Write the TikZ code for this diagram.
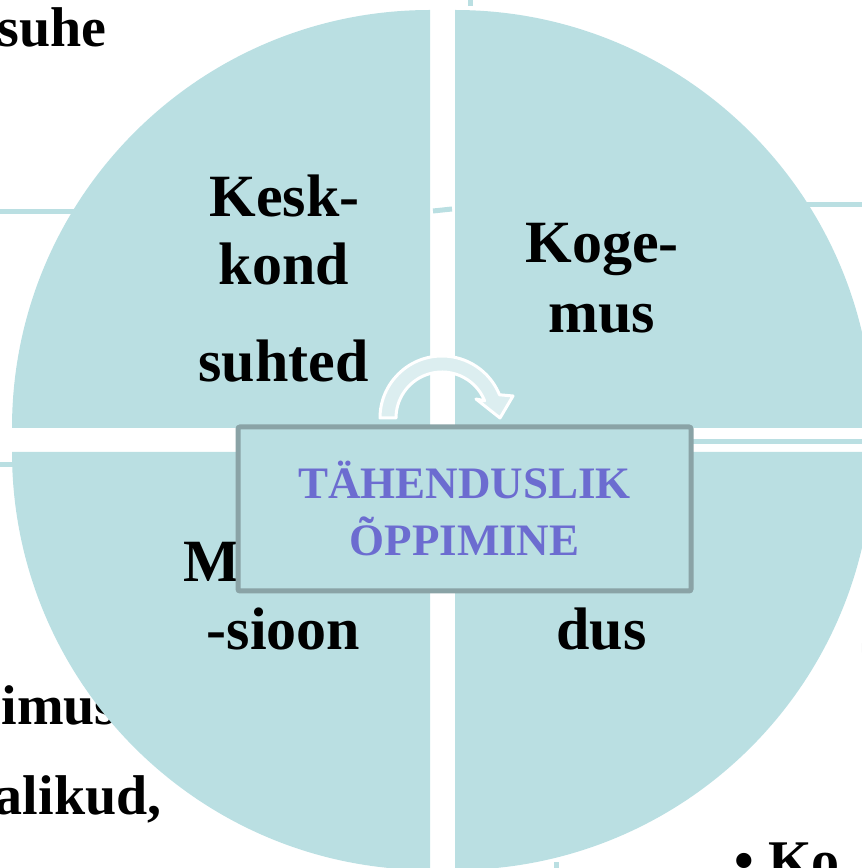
\documentclass[tikz,border=0pt]{standalone}
\usepackage{fontspec}
\setmainfont{Liberation Serif}
\usepackage{tikz}

\definecolor{wedge}{RGB}{186,223,226}
\definecolor{frame}{RGB}{138,163,166}
\definecolor{title}{RGB}{108,108,208}
\definecolor{arrowfill}{RGB}{220,238,240}

\tikzset{
  lbl/.style={anchor=base,font=\fontsize{60}{68}\selectfont\bfseries},
  back/.style={font=\fontsize{56}{68}\selectfont\bfseries},
  bgline/.style={draw=wedge,line width=5pt},
  pie/.style={fill=wedge},
  core/.style={draw=frame,fill=wedge,line width=5pt,minimum width=453pt,minimum height=164pt,
    rounded corners=2pt,align=center,text=title,font=\fontsize{45}{57}\selectfont\bfseries}
}

\begin{document}
\begin{tikzpicture}[x=1pt,y=1pt]
        \useasboundingbox (0,0) rectangle (862,868);
        \clip (0,0) rectangle (862,868);

        % slide behind
        \node[back,anchor=base east] (suhe) at (110,821) {suhe};
        \node[back,anchor=base west] (imus) at (-2,143) {imus};
        \node[back,anchor=base east] (alikud) at (165,53) {alikud,};
        \node[back,anchor=base west] (ko) at (731,-12) {\textbullet\ Ko};
        \node[back,anchor=base west] (s) at (856,213) {S};
        \draw[bgline] (0,656) -- (100,656);
        \draw[bgline] (780,663) -- (862,663);
        \draw[bgline] (0,403) -- (60,403);
        \draw[bgline] (455,426) -- (862,426);
        \draw[bgline] (433,657) -- (452,659);
        \draw[bgline] (470,868) -- (470,862);
        \draw[bgline] (556,0) -- (556,6);

        % four wedges
        \fill[pie] (430,440) -- (12,440) arc[start angle=180,end angle=90,radius=418] -- cycle;
        \fill[pie] (455,440) -- (455,858) arc[start angle=90,end angle=0,radius=418] -- cycle;
        \fill[pie] (430,416) -- (12,416) arc[start angle=180,end angle=270,radius=418] -- cycle;
        \fill[pie] (455,416) -- (455,-2) arc[start angle=270,end angle=360,radius=418] -- cycle;

        \node[lbl] (kesk) at (284.5,651) {Kesk-};
        \node[lbl] (kond) at (284,583) {kond};
        \node[lbl] (suhted) at (283.5,486) {suhted};
        \node[lbl] (koge) at (602,605) {Koge-};
        \node[lbl] (mus) at (602,535) {mus};
        \node[lbl,anchor=base west] (mo) at (180,286) {Mo};
        \node[lbl] (sioon) at (283.5,218) {-sioon};
        \node[lbl] (dus) at (601.5,218) {dus};

        % turning arrow
        \filldraw[fill=arrowfill,draw=white,line width=3pt,line join=round]
            (380,450) arc[start angle=180,end angle=22,radius=62]
            -- (513,472) -- (500,450) -- (476,469) -- (484.65,467.23)
            arc[start angle=22,end angle=180,radius=46] -- cycle;

        \node[core] (center) at (464.5,359) {TÄHENDUSLIK\\ÕPPIMINE};
    \end{tikzpicture}
\end{document}
